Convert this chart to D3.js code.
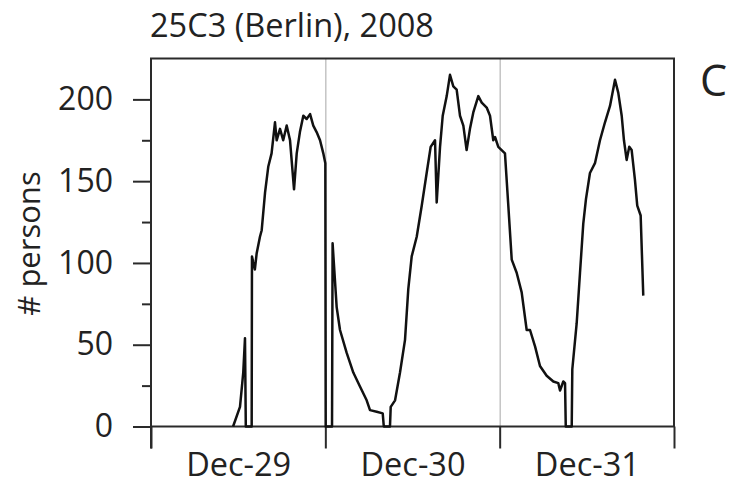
<!DOCTYPE html>
<html>
<head>
<meta charset="utf-8">
<script src="https://cdn.jsdelivr.net/npm/d3@7"></script>
<style>
body { margin: 0; background: #fff; }
text { font-family: "Open Sans", sans-serif; fill: #222; }
</style>
</head>
<body>
<script>
const title = '25C3 (Berlin), 2008'
const panelLetter = 'C'
const yTitle = '# persons'
const dayStarts = ['2008-12-29', '2008-12-30', '2008-12-31', '2009-01-01']
const yMajor = [0, 50, 100, 150, 200]
const yMinor = [25, 75, 125, 175]

// hours since Dec-29 00:00
const hours = [
  11.3, 12.25, 12.7, 12.94, 13.05, 13.86, 13.9, 14.3, 14.55, 15.0, 15.24, 15.7, 16.15, 16.6,
  17.07, 17.3, 17.76, 18.2, 18.68, 19.14, 19.69, 20.06, 20.5, 20.97, 21.43, 21.9, 22.34,
  22.8, 23.27, 23.72, 24.0, 24.05, 24.92, 25.0, 25.56, 26.02, 26.94, 27.85, 28.77, 29.69,
  30.15, 31.07, 31.9, 32.05, 32.9, 33.0, 33.6, 34.28, 34.97, 35.42, 35.89, 36.58, 37.27,
  37.95, 38.5, 39.1, 39.33, 39.79, 40.16, 40.71, 41.16, 41.62, 42.08, 42.54, 43.0, 43.45,
  43.91, 44.37, 45.06, 45.53, 46.21, 46.67, 47.12, 47.36, 47.81, 48.73, 49.19, 49.66,
  50.34, 51.03, 51.72, 52.18, 52.87, 53.55, 54.47, 55.39, 56.07, 56.31, 56.76, 57.0,
  57.1, 57.92, 58.0, 58.6, 59.06, 59.51, 59.88, 60.43, 61.12, 61.81, 62.5, 63.19, 63.88,
  64.33, 64.8, 65.11, 65.48, 65.84, 66.17, 66.62, 66.94, 67.41, 67.77
]
const persons = [
  0, 12, 33, 54, 0, 0, 104, 96, 106, 116, 120, 143, 159, 167,
  186, 175, 182, 175, 184, 175, 145, 167, 180, 190, 188, 191, 184,
  180, 175, 167, 161, 0, 0, 112, 73, 59, 45, 33, 24.5, 16,
  10, 9, 8, 0, 0, 12, 16, 33, 53, 84, 104, 116, 135,
  155, 171, 175, 137, 171, 190, 202, 215, 208, 206, 190, 184, 169,
  182, 192, 202, 198, 195, 190, 175, 177, 171, 167, 135, 102,
  94, 82, 59, 59, 49, 37, 31, 27.5, 26.5, 22, 27.5, 26.5,
  0, 0, 35, 63, 94, 124, 139, 155, 161, 175, 186, 196, 212,
  204, 190, 175, 163, 171, 169, 151, 135, 129, 80
]

const width = 735
const height = 485
const plotLeft = 151
const plotRight = 674
const plotTop = 58.5
const plotBottom = 426.5

const parseDay = d3.timeParse('%Y-%m-%d')
const days = dayStarts.map(parseDay)
const t0 = days[0].getTime()
const data = hours.map((h, i) => ({ t: new Date(t0 + h * 3600e3), v: persons[i] }))
const middays = days.slice(0, 3).map(d => d3.timeHour.offset(d, 12))

const x = d3.scaleTime().domain([days[0], days[3]]).range([plotLeft, plotRight])
const y = d3.scaleLinear().domain([0, 225]).range([plotBottom, plotTop])

const svg = d3.select('body').append('svg')
  .attr('width', width)
  .attr('height', height)

// gray day separators
svg.append('g')
  .attr('transform', `translate(0, ${plotBottom})`)
  .call(d3.axisBottom(x).tickValues(days.slice(1, 3)).tickSize(-(plotBottom - plotTop)).tickFormat(''))
  .call(g => g.select('.domain').remove())
  .call(g => g.selectAll('line').attr('stroke', '#b5b5b5').attr('stroke-width', 1.2))

// frame
svg.append('rect')
  .attr('x', plotLeft)
  .attr('y', plotTop)
  .attr('width', plotRight - plotLeft)
  .attr('height', plotBottom - plotTop)
  .attr('fill', 'none')
  .attr('stroke', '#2a2a2a')
  .attr('stroke-width', 2)

// x ticks + day labels
svg.append('g')
  .attr('transform', `translate(0, ${plotBottom})`)
  .call(d3.axisBottom(x).tickValues(days).tickSize(22).tickFormat(''))
  .call(g => g.select('.domain').remove())
  .call(g => g.selectAll('line').attr('stroke', '#2a2a2a').attr('stroke-width', 2))

svg.append('g')
  .attr('transform', `translate(0, ${plotBottom})`)
  .call(d3.axisBottom(x).tickValues(middays).tickSize(0).tickPadding(26).tickFormat(d3.timeFormat('%b-%d')))
  .call(g => g.select('.domain').remove())
  .call(g => g.selectAll('text').style('font-size', '32.5px').attr('fill', '#222'))

// y ticks
svg.append('g')
  .attr('transform', `translate(${plotLeft}, 0)`)
  .call(d3.axisLeft(y).tickValues(yMajor).tickSize(18).tickPadding(20))
  .call(g => g.select('.domain').remove())
  .call(g => g.selectAll('line').attr('stroke', '#2a2a2a').attr('stroke-width', 2))
  .call(g => g.selectAll('text').style('font-size', '32px').attr('fill', '#222'))

svg.append('g')
  .attr('transform', `translate(${plotLeft}, 0)`)
  .call(d3.axisLeft(y).tickValues(yMinor).tickSize(9).tickFormat(''))
  .call(g => g.select('.domain').remove())
  .call(g => g.selectAll('line').attr('stroke', '#2a2a2a').attr('stroke-width', 2))

// left axis line runs down to the tick ends
svg.append('line')
  .attr('x1', plotLeft).attr('x2', plotLeft)
  .attr('y1', plotTop).attr('y2', plotBottom + 22)
  .attr('stroke', '#2a2a2a')
  .attr('stroke-width', 2)

const line = d3.line()
  .x(d => x(d.t))
  .y(d => y(d.v))

svg.append('path')
  .datum(data)
  .attr('d', line)
  .attr('fill', 'none')
  .attr('stroke', '#111')
  .attr('stroke-width', 2.5)
  .attr('stroke-linejoin', 'round')

svg.append('text')
  .attr('x', 150)
  .attr('y', 37)
  .style('font-size', '32.5px')
  .text(title)

svg.append('text')
  .attr('x', 700)
  .attr('y', 96)
  .style('font-size', '43px')
  .text(panelLetter)

svg.append('text')
  .attr('transform', `translate(40, ${(plotTop + plotBottom) / 2 + 1}) rotate(-90)`)
  .attr('text-anchor', 'middle')
  .style('font-size', '31px')
  .text(yTitle)
</script>
</body>
</html>
